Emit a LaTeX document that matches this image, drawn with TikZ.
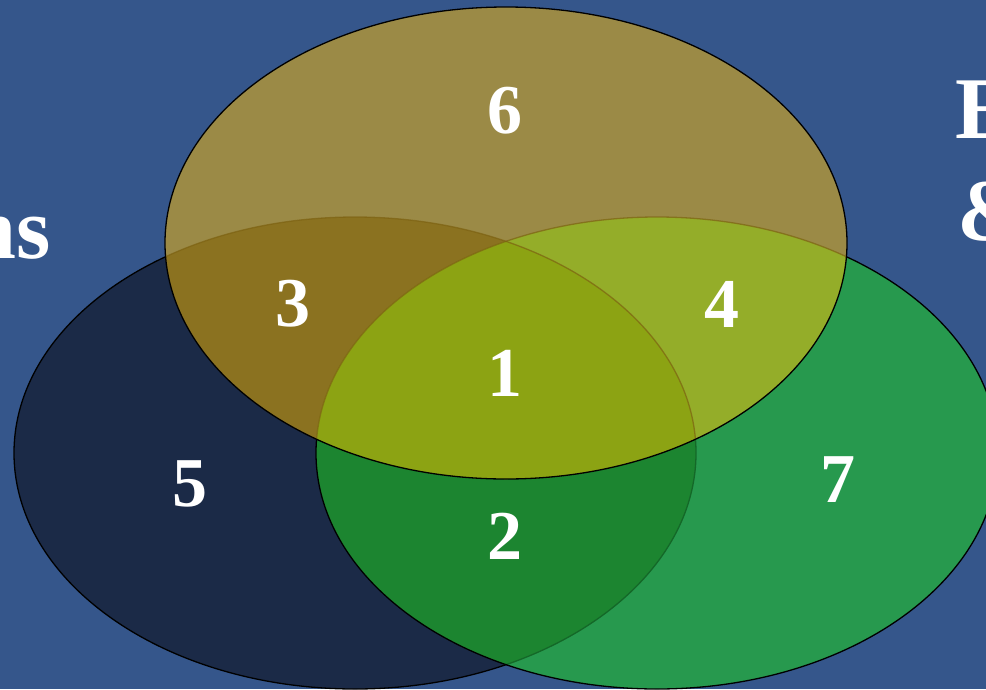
\documentclass[tikz,border=0pt]{standalone}
\usepackage{fontspec}
\setmainfont{Liberation Serif}
\definecolor{bgblue}{RGB}{53,86,139}
\definecolor{navyfill}{RGB}{27,42,71}
\definecolor{greenfill}{RGB}{39,153,78}
\definecolor{goldfill}{RGB}{155,138,70}
\definecolor{navygreen}{RGB}{28,133,48}
\definecolor{goldnavy}{RGB}{139,114,32}
\definecolor{goldgreen}{RGB}{148,173,41}
\definecolor{centrefill}{RGB}{140,163,19}
\definecolor{greenline}{RGB}{20,104,40}
\definecolor{goldline}{RGB}{125,98,18}
% the three sets of the diagram
\def\setL{(355,453) ellipse [x radius=341pt, y radius=236pt]}
\def\setR{(657,453) ellipse [x radius=341pt, y radius=236pt]}
\def\setT{(506,243) ellipse [x radius=341pt, y radius=236pt]}
\begin{document}
\begin{tikzpicture}[x=1pt,y=-1pt,
  rim/.style={line width=1.3pt, draw=black},
  num/.style={text=white, inner sep=0pt, font=\fontsize{70}{70}\selectfont\bfseries},
  side/.style={text=white, inner sep=0pt, font=\fontsize{88}{88}\selectfont\bfseries}]
\useasboundingbox (0,0) rectangle (986,689);
\clip (0,0) rectangle (986,689);
\fill[bgblue] (0,0) rectangle (986,689);

% left set
\fill[navyfill] \setL;
\draw[rim] \setL;

% right set and its overlap with the left one
\fill[greenfill] \setR;
\begin{scope}
  \clip \setR;
  \fill[navygreen] \setL;
  \draw[line width=1.3pt, greenline] \setL;
\end{scope}
\draw[rim] \setR;

% top set and its overlaps
\fill[goldfill] \setT;
\begin{scope}
  \clip \setT;
  \fill[goldnavy] \setL;
  \fill[goldgreen] \setR;
  \begin{scope}
    \clip \setL;
    \fill[centrefill] \setR;
  \end{scope}
  \draw[line width=1.3pt, goldline, opacity=0.7] \setL;
  \draw[line width=1.3pt, goldline, opacity=0.7] \setR;
\end{scope}
\draw[rim] \setT;

% region numbers
\node[num] (n1) at (505,373) {1};
\node[num] (n2) at (505,536) {2};
\node[num] (n3) at (293,304) {3};
\node[num] (n4) at (722,304) {4};
\node[num] (n5) at (190,484) {5};
\node[num] (n6) at (505,111) {6};
\node[num] (n7) at (838,480) {7};

% set captions at the edges
\node[side, anchor=base east] (capL) at (51,258) {ns};
\node[side, anchor=base west] (capR1) at (955,138) {E};
\node[side, anchor=base west] (capR2) at (957,240) {\&};
\end{tikzpicture}
\end{document}
